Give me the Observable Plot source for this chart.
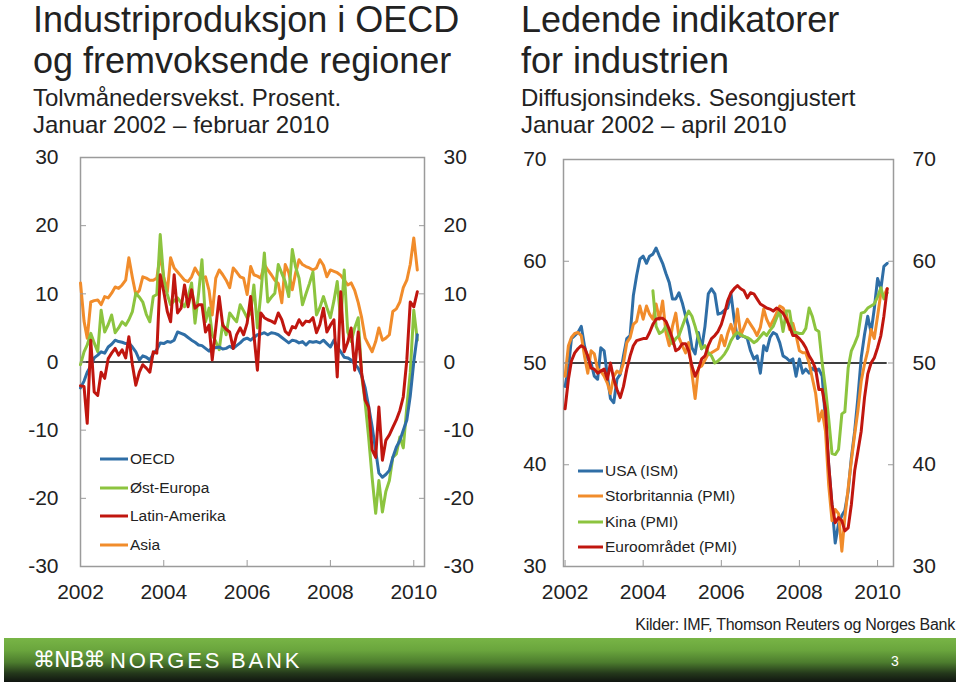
<!DOCTYPE html>
<html><head><meta charset="utf-8">
<script src="https://cdn.jsdelivr.net/npm/d3@7"></script>
<script src="https://cdn.jsdelivr.net/npm/@observablehq/plot@0.6"></script>
<style>
body{margin:0;background:#fff;}
#page{position:relative;width:960px;height:683px;overflow:hidden;font-family:"Liberation Sans",Arial,sans-serif;color:#222;background:#fff;}
.t{position:absolute;white-space:nowrap;line-height:1;}
.h1{font-size:36px;}
.h2{font-size:24px;}
.panel{position:absolute;top:140px;}
.leg{position:absolute;font-size:15.5px;line-height:1;white-space:nowrap;}
.leg svg{position:absolute;overflow:visible;}
#footer{position:absolute;left:4px;top:638px;width:952px;height:44px;
 background:linear-gradient(to bottom,#78b546 0%,#6aa53d 28%,#4d7d2e 55%,#24381b 80%,#101510 100%);}
</style></head><body><div id="page">
<div class="t h1" style="left:33px;top:2px">Industriproduksjon i OECD</div>
<div class="t h1" style="left:33px;top:43px">og fremvoksende regioner</div>
<div class="t h2" style="left:33px;top:86px">Tolvmånedersvekst. Prosent.</div>
<div class="t h2" style="left:33px;top:113px">Januar 2002 – februar 2010</div>
<div class="t h1" style="left:521px;top:2px">Ledende indikatorer</div>
<div class="t h1" style="left:521px;top:43px">for industrien</div>
<div class="t h2" style="left:521px;top:86px">Diffusjonsindeks. Sesongjustert</div>
<div class="t h2" style="left:521px;top:113px">Januar 2002 – april 2010</div>
<div id="left" class="panel" style="left:0px"></div>
<div id="right" class="panel" style="left:480px"></div>
<div id="legL"></div>
<div id="legR"></div>
<div class="t" style="right:5px;top:617px;font-size:16px;letter-spacing:-0.25px">Kilder: IMF, Thomson Reuters og Norges Bank</div>
<div id="footer">
 <div class="t" style="left:29px;top:11px;color:#fff;font-size:22px;font-family:'DejaVu Sans',sans-serif;letter-spacing:-1px">⌘NB⌘</div>
 <div class="t" style="left:106px;top:12px;color:#fff;font-size:22px;letter-spacing:2.8px">NORGES BANK</div>
 <div class="t" style="left:887px;top:16px;color:#fff;font-size:14px">3</div>
</div>
</div>
<script>
// ---------- Left panel data: 12-month growth, Jan 2002 - Feb 2010 ----------
const leftStart = "2002-01";
const oecd = [-3.8,-2.8,-1.5,-0.6,0.6,1.0,1.5,1.3,2.2,2.6,3.2,3.0,2.9,2.7,2.8,2.2,1.5,0.3,0.9,0.7,0.3,1.2,1.8,2.8,2.7,3.0,2.9,3.2,4.4,4.2,4.0,3.6,3.2,2.9,2.5,2.4,2.0,1.6,2.2,2.1,2.2,1.9,2.0,2.3,2.0,2.4,2.8,3.3,3.5,3.2,3.6,4.0,4.1,4.3,4.0,4.3,4.2,4.0,3.6,3.2,2.8,3.2,3.1,2.8,3.0,2.5,3.0,2.9,3.0,2.8,3.2,2.7,2.2,3.2,2.2,1.5,0.7,0.6,0.3,-0.3,-0.9,-2.0,-3.8,-6.5,-9.5,-13,-16.3,-16.9,-16.5,-15.9,-14,-12.5,-11.5,-10,-8.5,-5,0,4];
const ostEuropa = [-0.4,1.5,2.5,4.2,2.8,1.5,7.6,4.4,5.5,6.9,4.3,5.0,5.9,5.4,6.2,7.4,10.1,9.5,8.8,7.0,5.9,9.6,9.9,18.7,12,9.9,8.4,9.0,9.4,8.7,8.1,9.5,11.6,5.7,10,15,5.9,7.9,4,3,1.8,5.7,4,7.2,6.5,5.9,8.4,7.5,6.5,7.2,11.3,5,10,16,8.8,9.5,10.1,14.3,13,11.8,9.6,16.5,14,12.3,8.4,10,11.5,13.2,6.9,8,9.6,8,6.5,9,11.8,5.9,13.5,4.4,3,5,6.5,-2,-6,-11,-17,-22.2,-17.4,-22,-19,-17.4,-14,-13.5,-11,-12.6,-6.6,-1.6,7.6,3.2];
const latinAmerika = [-3.5,-3.6,-9,3.2,-4.4,-4.9,-1.5,-2.4,0.5,1.3,2,1.0,1.8,0.6,3.7,-0.4,-3.4,-1.5,-0.4,-0.9,-1.5,1.5,1.3,12.8,10.3,7.4,5.9,12.8,7.2,7.9,11.3,8.1,10.6,7.9,8.4,8.4,4.4,5.4,0.3,5,9.6,5.4,4.8,4.4,2,4,5,4,5.7,9.6,4,-1.2,7.2,6.5,6.2,6.0,5.7,7.2,6.2,4.5,4,5.2,5,6.2,5.4,6,5.9,6.5,4.3,5.5,7.9,4.4,5.4,6.2,-2.2,10.3,1.5,2.9,5,-1.2,4.4,-1.6,-5.6,-6.6,-12.9,-14,-6.6,-14.4,-11.5,-10.7,-9.6,-8.5,-7.1,-5.1,0.3,8.8,8.1,10.3];
const asia = [11.6,6,3.5,8.8,9.0,9.1,8.4,9.6,9.4,10.1,11,10.8,11.3,12,15.3,12.4,9.9,10.5,12.5,12.3,12.0,12,12.3,15.7,12.5,10.3,15.3,13.8,13.2,12.6,12,11.8,12.5,13.8,12.9,12.3,12.5,10.5,6.9,12.3,13.5,12.8,12,10.9,13.8,13.2,12.5,12.3,9.9,14,12.8,12.6,12.3,14.3,13.5,12.8,12,11.5,8.7,14.3,13.1,10.6,13,15,14.3,14,13.8,13.5,13.8,15,14.2,12.5,13.5,13.3,13.1,12.7,12,11.3,11.6,10.5,8.7,6.5,3.5,2.5,1.5,3,5,3.2,3.5,4,7.4,7.8,8.8,10.9,12,14.3,18.2,13.5];
const leftNames = ["OECD","Øst-Europa","Latin-Amerika","Asia"];
const leftTicks = [-30,-20,-10,0,10,20,30];

// ---------- Right panel data: PMI diffusion indices, Jan 2002 - Apr 2010 ----------
const rightStart = "2002-01";
const usaISM = [47.7,49.5,52.4,52.7,53,53.6,51.7,50.4,50,48.7,48.4,51.5,51.2,48.7,46.5,46.1,48.4,48.9,50.7,52.4,52.7,56.6,58.6,60.2,60.5,59.8,60.5,60.7,61.3,60.5,59.8,58.8,57.9,56.3,56.3,56.9,55.9,54.6,53.6,51.5,50.9,53,51.4,53.6,56.8,57.3,56.8,54.8,54.9,55.2,55.4,56.8,54.3,52.4,52.7,52.6,52.4,51.2,50.4,50.7,49,51.7,51.2,52.5,53,52.8,52,50.7,50.5,50.2,50.4,48.7,50.4,49,49.4,49,49.5,49.2,49.4,48.7,44.3,40,36,32.3,34.2,35,35.5,37.4,40.7,43.3,46.6,50.5,52.8,54.6,53,55.3,58.3,57.3,59.5,59.8];
const storbritannia = [48.7,51.7,52.5,52.9,53,52.7,50.7,49,51.2,50.9,49.4,49.2,48.7,48,47,48.7,49.2,49,50,52,52.5,53.8,54.1,55.6,54.3,55.6,54.8,54.3,55.8,54.3,56.1,53,51.7,53.6,54.9,52.5,51.7,51,52,49,46.5,49.5,49.7,50.3,50.9,51,51.2,51.4,52.7,51.7,52.9,53.8,52.7,55.3,52.7,53.5,54.3,53.8,53.3,52.7,53.5,55.3,54.3,53.6,54.2,54.9,55.6,55.4,54.8,53.3,53.9,52.7,51.2,51,51,50,48.5,47,44.3,45.3,43.3,38,34.5,35.6,35.2,31.5,34.8,37.7,40.4,43,45.3,48.2,49.9,51.2,53.3,52.4,54.6,56.9,56.6,57.3];
const kinaStart = "2004-04";
const kina = [57.1,53.6,52.9,53.1,53.6,52.7,51.9,52.4,52.7,53.6,54.5,55.1,54.6,53.6,52.4,51.4,51.7,51,50.7,50,50.2,50.5,50.9,51.4,52.2,52.7,53,52.8,52.6,52.5,52.3,52,52.2,52.6,53,52.7,53.2,53.6,54.4,55.1,53.1,55.1,55.1,53,53,52.9,52.9,53.4,55.4,54.6,53.3,53.1,50,47.5,44.5,41.1,41,41.5,45,45.2,49.5,51.2,51.9,52.7,54.9,55,55.4,55.6,55.8,56.5,57.4,56.3,56.9];
const euroomradet = [45.5,48.4,50.2,51,51.4,51.7,51.5,50.7,49.5,49.4,49,49.2,49.4,48.4,50,48.4,47.4,46.6,47.7,49.4,50.7,51.7,52.2,52.3,52.4,52.4,53,53.8,54.3,54.4,54.4,54.1,53.3,52.4,51.2,51.4,51.9,51.9,51.2,49.7,48.7,49.4,50.4,50.7,51.7,52.4,52.7,53.1,53.8,54.9,56.1,56.9,57.3,57.6,57.3,57.1,56.4,56.9,56.8,56.3,55.8,55.6,55.4,55.3,55.1,55.4,55.2,54.9,54.3,53.6,52.7,52.7,52.4,52,51.5,50.7,50.2,49.4,47.4,47.4,45.5,40,36.1,34.3,34.8,34.5,33.5,33.8,36.1,39.4,41.3,43.3,46.6,48.9,50,50.5,51.5,52.7,54.6,57.3];
const rightNames = ["USA (ISM)","Storbritannia (PMI)","Kina (PMI)","Euroområdet (PMI)"];
const rightTicks = [30,40,50,60,70];
const yearTicks = ["2002","2004","2006","2008","2010"];

// ---------- helpers ----------
const COL = {blue:"#2f6ea6", green:"#8cc43f", red:"#c0160f", orange:"#f18c2b"};
const pm = d3.utcParse("%Y-%m"), py = d3.utcParse("%Y");
function series(name, start, values){
  const s = pm(start);
  return values.map((v,i)=>({date:d3.utcMonth.offset(s,i), value:v, series:name}));
}
const xTickDates = yearTicks.map(py);
const fmt = d => String(d);
const font = "'Liberation Sans', Arial, sans-serif";

// ---------- Left plot ----------
const Ls = {
  "OECD": series(leftNames[0], leftStart, oecd),
  "Øst-Europa": series(leftNames[1], leftStart, ostEuropa),
  "Latin-Amerika": series(leftNames[2], leftStart, latinAmerika),
  "Asia": series(leftNames[3], leftStart, asia)
};
const leftColors = {"OECD":COL.blue,"Øst-Europa":COL.green,"Latin-Amerika":COL.red,"Asia":COL.orange};
const lAll = Ls["OECD"];
const lineOpt = {x:"date", y:"value", strokeWidth:3, strokeLinejoin:"round", strokeLinecap:"round"};

const left = Plot.plot({
  width:480, height:470,
  marginLeft:80, marginRight:56, marginTop:17, marginBottom:44,
  style:{fontFamily:font, fontSize:"21px", color:"#222", background:"transparent", overflow:"visible"},
  x:{type:"utc", domain:[pm("2002-01"), new Date(Date.UTC(2010,3,5))], label:null},
  y:{domain:[-30,30], label:null},
  marks:[
    Plot.frame({stroke:"#9b9b9b", strokeWidth:1.5}),
    Plot.ruleY([0], {x1:lAll[0].date, x2:lAll[lAll.length-1].date, stroke:"#000", strokeWidth:1.4}),
    Plot.line(Ls["Asia"], {...lineOpt, stroke:leftColors["Asia"]}),
    Plot.line(Ls["Øst-Europa"], {...lineOpt, stroke:leftColors["Øst-Europa"]}),
    Plot.line(Ls["OECD"], {...lineOpt, stroke:leftColors["OECD"]}),
    Plot.line(Ls["Latin-Amerika"], {...lineOpt, stroke:leftColors["Latin-Amerika"]}),
    Plot.axisY(leftTicks, {anchor:"left", tickSize:0, tickPadding:22, tickFormat:fmt, label:null}),
    Plot.axisY(leftTicks, {anchor:"right", tickSize:0, tickPadding:19, tickFormat:fmt, label:null}),
    Plot.axisY(leftTicks.slice(1,-1), {anchor:"left", tickSize:-6, fill:"none", stroke:"#9b9b9b", label:null}),
    Plot.axisY(leftTicks.slice(1,-1), {anchor:"right", tickSize:-6, fill:"none", stroke:"#9b9b9b", label:null}),
    Plot.axisX(xTickDates, {anchor:"bottom", tickSize:0, tickPadding:18, tickFormat:"%Y", label:null}),
    Plot.axisX(xTickDates, {anchor:"bottom", tickSize:-6, fill:"none", stroke:"#9b9b9b", label:null})
  ]
});
document.getElementById("left").appendChild(left);

// ---------- Right plot ----------
const Rs = {
  "USA (ISM)": series(rightNames[0], rightStart, usaISM),
  "Storbritannia (PMI)": series(rightNames[1], rightStart, storbritannia),
  "Kina (PMI)": series(rightNames[2], kinaStart, kina),
  "Euroområdet (PMI)": series(rightNames[3], rightStart, euroomradet)
};
const rightColors = {"USA (ISM)":COL.blue,"Storbritannia (PMI)":COL.orange,"Kina (PMI)":COL.green,"Euroområdet (PMI)":COL.red};
const rAll = Rs["USA (ISM)"];
const right = Plot.plot({
  width:480, height:470,
  marginLeft:83, marginRight:67, marginTop:19, marginBottom:44,
  style:{fontFamily:font, fontSize:"21px", color:"#222", background:"transparent", overflow:"visible"},
  x:{type:"utc", domain:[new Date(Date.UTC(2001,11,17)), new Date(Date.UTC(2010,4,30))], label:null},
  y:{domain:[30,70], label:null},
  marks:[
    Plot.frame({stroke:"#9b9b9b", strokeWidth:1.5}),
    Plot.ruleY([50], {x1:rAll[0].date, x2:rAll[rAll.length-1].date, stroke:"#000", strokeWidth:1.4}),
    Plot.line(Rs["USA (ISM)"], {...lineOpt, stroke:rightColors["USA (ISM)"]}),
    Plot.line(Rs["Storbritannia (PMI)"], {...lineOpt, stroke:rightColors["Storbritannia (PMI)"]}),
    Plot.line(Rs["Kina (PMI)"], {...lineOpt, stroke:rightColors["Kina (PMI)"]}),
    Plot.line(Rs["Euroområdet (PMI)"], {...lineOpt, stroke:rightColors["Euroområdet (PMI)"]}),
    Plot.axisY(rightTicks, {anchor:"left", tickSize:0, tickPadding:17, tickFormat:fmt, label:null}),
    Plot.axisY(rightTicks, {anchor:"right", tickSize:0, tickPadding:19, tickFormat:fmt, label:null}),
    Plot.axisY(rightTicks.slice(1,-1), {anchor:"left", tickSize:-6, fill:"none", stroke:"#9b9b9b", label:null}),
    Plot.axisY(rightTicks.slice(1,-1), {anchor:"right", tickSize:-6, fill:"none", stroke:"#9b9b9b", label:null}),
    Plot.axisX(xTickDates, {anchor:"bottom", tickSize:0, tickPadding:18, tickFormat:"%Y", label:null}),
    Plot.axisX(xTickDates, {anchor:"bottom", tickSize:-6, fill:"none", stroke:"#9b9b9b", label:null})
  ]
});
document.getElementById("right").appendChild(right);

// ---------- Legends ----------
function legend(id, names, colors, x0, y0, step, lineLen){
  const host = document.getElementById(id);
  names.forEach((n,i)=>{
    const d = document.createElement("div");
    d.className = "leg";
    d.style.left = (x0 + lineLen + 2) + "px";
    d.style.top = (y0 + i*step - 8) + "px";
    d.textContent = n;
    const s = document.createElementNS("http://www.w3.org/2000/svg","svg");
    s.setAttribute("width", lineLen); s.setAttribute("height", 4);
    s.style.left = (-lineLen - 2) + "px"; s.style.top = "6px";
    const l = document.createElementNS("http://www.w3.org/2000/svg","line");
    l.setAttribute("x1",0); l.setAttribute("x2",lineLen); l.setAttribute("y1",2); l.setAttribute("y2",2);
    l.setAttribute("stroke", colors[n]); l.setAttribute("stroke-width",3);
    s.appendChild(l); d.appendChild(s); host.appendChild(d);
  });
}
legend("legL", leftNames, leftColors, 100, 459, 28.7, 28);
legend("legR", rightNames, rightColors, 578, 471, 25.3, 25);
</script>
</body></html>
